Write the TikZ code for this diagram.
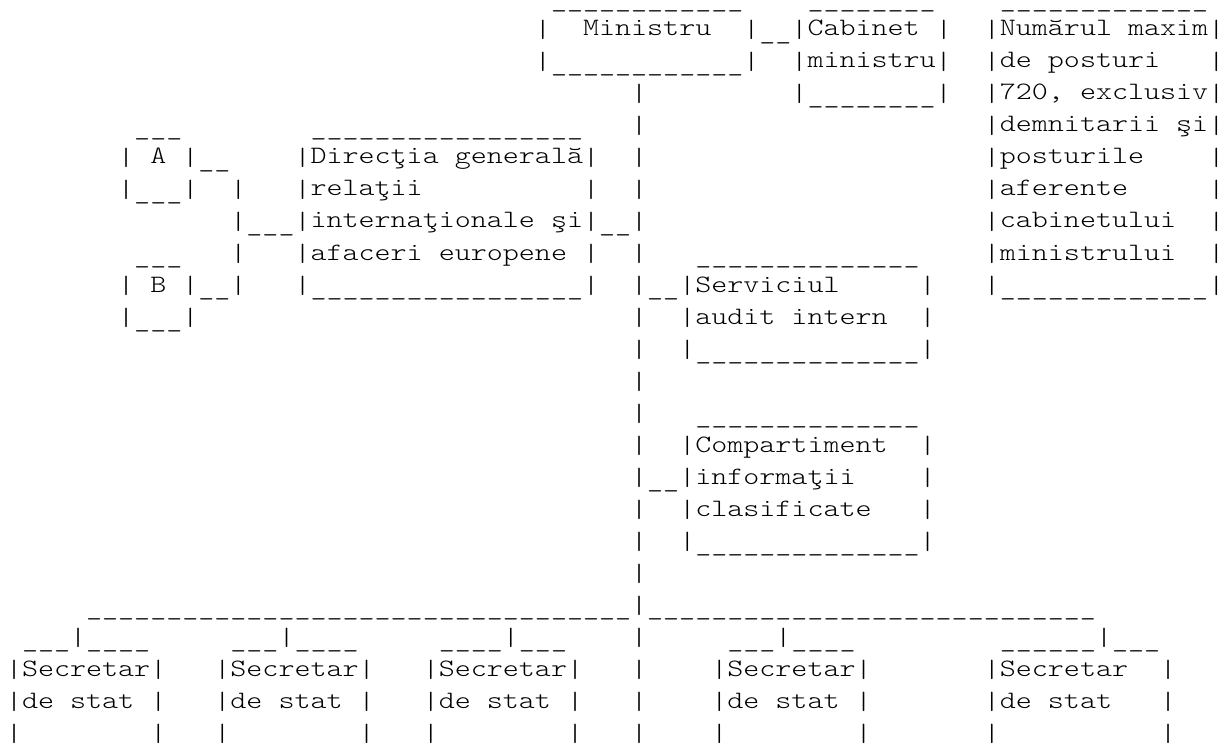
\documentclass[tikz,border=0pt]{standalone}
\usepackage{fontspec}
\newfontfamily\asciifont[FakeStretch=1.2213]{lmmonolt10-regular.otf}
\newcommand\barglyph{\raisebox{-1.5pt}{\textbar}}
\ExplSyntaxOn
\NewDocumentCommand\US{m}{\raisebox{-3.5pt}{\prg_replicate:nn{#1}{\_}}}
\tl_new:N \l_asciiart_tl
\NewDocumentCommand\fixbars{m}{
  \tl_set:Nn \l_asciiart_tl {#1}
  \tl_replace_all:Nnn \l_asciiart_tl {|} {\barglyph}
  \tl_use:N \l_asciiart_tl
}
\ExplSyntaxOff
\tikzset{
  txt/.style={anchor=base west, inner sep=0pt, outer sep=0pt,
    font=\asciifont\fontsize{25pt}{32pt}\selectfont, text=black}
}
\newcommand\place[3]{\node[txt] (t#2-#1) at ({(6+#1*16.03)*1pt},{-(4+#2*32)*1pt}) {\fixbars{#3}};}
\begin{document}
\begin{tikzpicture}
\fill[white] (0,0) rectangle (1221pt,-746pt);
\useasboundingbox (0,0) rectangle (1221pt,-746pt);
% row 0
\place{34}{0}{\US{12}} \place{50}{0}{\US{8}} \place{62}{0}{\US{13}}
% row 1
\place{33}{1}{|} \place{36}{1}{Ministru} \place{46}{1}{|\US{2}|Cabinet} \place{58}{1}{|} \place{61}{1}{|Numărul} \place{70}{1}{maxim|}
% row 2
\place{33}{2}{|\US{12}|} \place{49}{2}{|ministru|} \place{61}{2}{|de} \place{65}{2}{posturi} \place{75}{2}{|}
% row 3
\place{39}{3}{|} \place{49}{3}{|\US{8}|} \place{61}{3}{|720,} \place{67}{3}{exclusiv|}
% row 4
\place{8}{4}{\US{3}} \place{19}{4}{\US{17}} \place{39}{4}{|} \place{61}{4}{|demnitarii} \place{73}{4}{şi|}
% row 5
\place{7}{5}{|} \place{9}{5}{A} \place{11}{5}{|\US{2}} \place{18}{5}{|Direcţia} \place{28}{5}{generală|} \place{39}{5}{|} \place{61}{5}{|posturile} \place{75}{5}{|}
% row 6
\place{7}{6}{|\US{3}|} \place{14}{6}{|} \place{18}{6}{|relaţii} \place{36}{6}{|} \place{39}{6}{|} \place{61}{6}{|aferente} \place{75}{6}{|}
% row 7
\place{14}{7}{|\US{3}|internaţionale} \place{34}{7}{şi|\US{2}|} \place{61}{7}{|cabinetului} \place{75}{7}{|}
% row 8
\place{8}{8}{\US{3}} \place{14}{8}{|} \place{18}{8}{|afaceri} \place{27}{8}{europene} \place{36}{8}{|} \place{39}{8}{|} \place{43}{8}{\US{14}} \place{61}{8}{|ministrului} \place{75}{8}{|}
% row 9
\place{7}{9}{|} \place{9}{9}{B} \place{11}{9}{|\US{2}|} \place{18}{9}{|\US{17}|} \place{39}{9}{|\US{2}|Serviciul} \place{57}{9}{|} \place{61}{9}{|\US{13}|}
% row 10
\place{7}{10}{|\US{3}|} \place{39}{10}{|} \place{42}{10}{|audit} \place{49}{10}{intern} \place{57}{10}{|}
% row 11
\place{39}{11}{|} \place{42}{11}{|\US{14}|}
% row 12
\place{39}{12}{|}
% row 13
\place{39}{13}{|} \place{43}{13}{\US{14}}
% row 14
\place{39}{14}{|} \place{42}{14}{|Compartiment} \place{57}{14}{|}
% row 15
\place{39}{15}{|\US{2}|informaţii} \place{57}{15}{|}
% row 16
\place{39}{16}{|} \place{42}{16}{|clasificate} \place{57}{16}{|}
% row 17
\place{39}{17}{|} \place{42}{17}{|\US{14}|}
% row 18
\place{39}{18}{|}
% row 19
\place{5}{19}{\US{34}|\US{28}}
% row 20
\place{1}{20}{\US{3}|\US{4}} \place{14}{20}{\US{3}|\US{4}} \place{27}{20}{\US{4}|\US{3}} \place{39}{20}{|} \place{45}{20}{\US{3}|\US{4}} \place{62}{20}{\US{6}|\US{3}}
% row 21
\place{0}{21}{|Secretar|} \place{13}{21}{|Secretar|} \place{26}{21}{|Secretar|} \place{39}{21}{|} \place{44}{21}{|Secretar|} \place{61}{21}{|Secretar} \place{72}{21}{|}
% row 22
\place{0}{22}{|de} \place{4}{22}{stat} \place{9}{22}{|}
\place{13}{22}{|de} \place{17}{22}{stat} \place{22}{22}{|}
\place{26}{22}{|de} \place{30}{22}{stat} \place{35}{22}{|}
\place{39}{22}{|}
\place{44}{22}{|de} \place{48}{22}{stat} \place{53}{22}{|}
\place{61}{22}{|de} \place{65}{22}{stat} \place{72}{22}{|}
% row 23
\place{0}{23}{|} \place{9}{23}{|} \place{13}{23}{|} \place{22}{23}{|} \place{26}{23}{|} \place{35}{23}{|} \place{39}{23}{|} \place{44}{23}{|} \place{53}{23}{|} \place{61}{23}{|} \place{72}{23}{|}
\end{tikzpicture}
\end{document}
